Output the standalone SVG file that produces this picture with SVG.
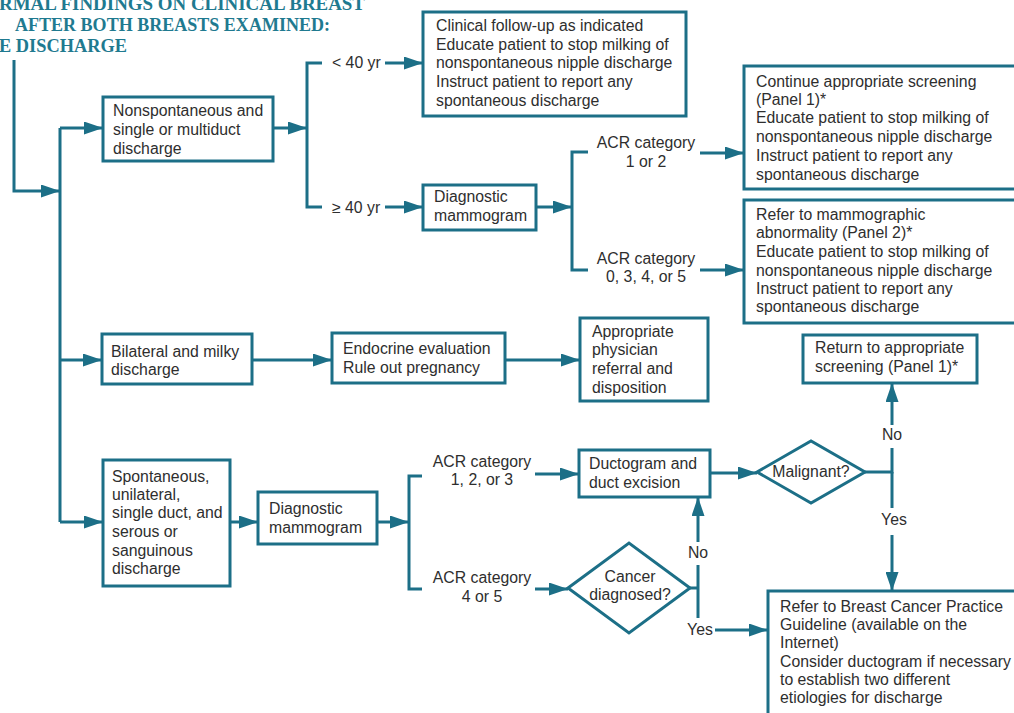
<svg xmlns="http://www.w3.org/2000/svg" width="1014" height="713" viewBox="0 0 1014 713">
<defs>
<style>
.box{fill:#ffffff;stroke:#1c6f87;stroke-width:3}
.t{font-family:"Liberation Sans",Arial,sans-serif;font-size:15.8px;fill:#2e2e2e}
.m{text-anchor:middle}
.hd{font-family:"Liberation Serif","Times New Roman",serif;font-size:19px;font-weight:bold;fill:#1f7a90}
.c{fill:none;stroke:#1c6f87;stroke-width:3}
.a{marker-end:url(#ah)}
</style>
<marker id="ah" viewBox="0 0 19 13" refX="19" refY="6.5" markerWidth="19" markerHeight="13" markerUnits="userSpaceOnUse" orient="auto">
<path d="M0,0 L19,6.5 L0,13 z" fill="#1c6f87"/>
</marker>
</defs>
<rect x="0" y="0" width="1014" height="713" fill="#ffffff"/>
<g id="title">
<text class="hd" x="-1" y="10" textLength="366" lengthAdjust="spacingAndGlyphs">RMAL FINDINGS ON CLINICAL BREAST</text>
<text class="hd" x="15" y="31" textLength="315" lengthAdjust="spacingAndGlyphs">AFTER BOTH BREASTS EXAMINED:</text>
<text class="hd" x="-1" y="52" textLength="128" lengthAdjust="spacingAndGlyphs">E DISCHARGE</text>
</g>
<g id="connectors">
<path class="c a" d="M14,60 V191 H60"/>
<path class="c" d="M60,128 V522"/>
<path class="c a" d="M60,128 H103"/>
<path class="c a" d="M60,360 H102"/>
<path class="c a" d="M60,522 H103"/>
<path class="c a" d="M273,128 H307"/>
<path class="c" d="M322,63 H307 V207 H322"/>
<path class="c a" d="M385,63 H423"/>
<path class="c a" d="M385,207 H423"/>
<path class="c a" d="M536,207 H572"/>
<path class="c" d="M588,152 H572 V270 H588"/>
<path class="c a" d="M700,153 H744"/>
<path class="c a" d="M700,270 H744"/>
<path class="c a" d="M252,360 H332"/>
<path class="c a" d="M505,360 H580"/>
<path class="c a" d="M230,522 H258"/>
<path class="c a" d="M377,522 H409"/>
<path class="c" d="M422,476 H409 V589 H422"/>
<path class="c a" d="M535,474 H579"/>
<path class="c a" d="M535,589 H568"/>
<path class="c a" d="M710,473 H757"/>
<path class="c" d="M690,588 H698"/>
<path class="c a" d="M698,542 V497"/>
<path class="c" d="M698,565 V618"/>
<path class="c a" d="M715,630 H768"/>
<path class="c" d="M865,472 H892 V448"/>
<path class="c a" d="M892,425 V383"/>
<path class="c" d="M892,472 V508"/>
<path class="c a" d="M892,535 V591"/>
<text class="t" x="332" y="68">&lt; 40 yr</text>
<text class="t" x="332" y="213">≥ 40 yr</text>
<text class="t m" x="646" y="148">ACR category</text>
<text class="t m" x="646" y="167">1 or 2</text>
<text class="t m" x="646" y="264">ACR category</text>
<text class="t m" x="646" y="282">0, 3, 4, or 5</text>
<text class="t m" x="482" y="467">ACR category</text>
<text class="t m" x="482" y="485">1, 2, or 3</text>
<text class="t m" x="482" y="583">ACR category</text>
<text class="t m" x="482" y="602">4 or 5</text>
<text class="t m" x="698" y="558">No</text>
<text class="t m" x="700" y="635">Yes</text>
<text class="t m" x="892" y="440">No</text>
<text class="t m" x="894" y="525">Yes</text>
</g>
<g id="n-nonspont">
<rect class="box" x="103" y="97" width="170" height="64"/>
<text class="t" x="113" y="116">Nonspontaneous and</text>
<text class="t" x="113" y="135">single or multiduct</text>
<text class="t" x="113" y="154">discharge</text>
</g>
<g id="n-clinical">
<rect class="box" x="423" y="12" width="263" height="104"/>
<text class="t" x="436" y="31">Clinical follow-up as indicated</text>
<text class="t" x="436" y="50">Educate patient to stop milking of</text>
<text class="t" x="436" y="68">nonspontaneous nipple discharge</text>
<text class="t" x="436" y="87">Instruct patient to report any</text>
<text class="t" x="436" y="106">spontaneous discharge</text>
</g>
<g id="n-diag1">
<rect class="box" x="423" y="185" width="113" height="45"/>
<text class="t" x="434" y="202">Diagnostic</text>
<text class="t" x="434" y="221">mammogram</text>
</g>
<g id="n-continue">
<rect class="box" x="744" y="66" width="280" height="123"/>
<text class="t" x="756" y="87">Continue appropriate screening</text>
<text class="t" x="756" y="105">(Panel 1)*</text>
<text class="t" x="756" y="123">Educate patient to stop milking of</text>
<text class="t" x="756" y="142">nonspontaneous nipple discharge</text>
<text class="t" x="756" y="161">Instruct patient to report any</text>
<text class="t" x="756" y="180">spontaneous discharge</text>
</g>
<g id="n-refermammo">
<rect class="box" x="744" y="200" width="280" height="123"/>
<text class="t" x="756" y="220">Refer to mammographic</text>
<text class="t" x="756" y="238">abnormality (Panel 2)*</text>
<text class="t" x="756" y="257">Educate patient to stop milking of</text>
<text class="t" x="756" y="276">nonspontaneous nipple discharge</text>
<text class="t" x="756" y="294">Instruct patient to report any</text>
<text class="t" x="756" y="312">spontaneous discharge</text>
</g>
<g id="n-bilateral">
<rect class="box" x="102" y="334" width="150" height="50"/>
<text class="t" x="111" y="357">Bilateral and milky</text>
<text class="t" x="111" y="375">discharge</text>
</g>
<g id="n-endocrine">
<rect class="box" x="332" y="333" width="173" height="50"/>
<text class="t" x="343" y="354">Endocrine evaluation</text>
<text class="t" x="343" y="373">Rule out pregnancy</text>
</g>
<g id="n-appropriate">
<rect class="box" x="580" y="318" width="128" height="83"/>
<text class="t" x="592" y="337">Appropriate</text>
<text class="t" x="592" y="355">physician</text>
<text class="t" x="592" y="374">referral and</text>
<text class="t" x="592" y="393">disposition</text>
</g>
<g id="n-spont">
<rect class="box" x="103" y="460" width="127" height="126"/>
<text class="t" x="112" y="482">Spontaneous,</text>
<text class="t" x="112" y="500">unilateral,</text>
<text class="t" x="112" y="518">single duct, and</text>
<text class="t" x="112" y="537">serous or</text>
<text class="t" x="112" y="556">sanguinous</text>
<text class="t" x="112" y="574">discharge</text>
</g>
<g id="n-diag2">
<rect class="box" x="258" y="492" width="119" height="52"/>
<text class="t" x="269" y="514">Diagnostic</text>
<text class="t" x="269" y="533">mammogram</text>
</g>
<g id="n-ductogram">
<rect class="box" x="579" y="450" width="131" height="47"/>
<text class="t" x="589" y="469">Ductogram and</text>
<text class="t" x="589" y="488">duct excision</text>
</g>
<g id="n-cancer">
<polygon class="box" points="568,588 629,543 690,588 629,633"/>
<text class="t m" x="630" y="582">Cancer</text>
<text class="t m" x="630" y="600">diagnosed?</text>
</g>
<g id="n-malignant">
<polygon class="box" points="757,472 811,441 865,472 811,503"/>
<text class="t m" x="811" y="477">Malignant?</text>
</g>
<g id="n-return">
<rect class="box" x="803" y="335" width="174" height="48"/>
<text class="t" x="815" y="353">Return to appropriate</text>
<text class="t" x="815" y="372">screening (Panel 1)*</text>
</g>
<g id="n-refer">
<rect class="box" x="768" y="591" width="260" height="130"/>
<text class="t" x="780" y="612">Refer to Breast Cancer Practice</text>
<text class="t" x="780" y="630">Guideline (available on the</text>
<text class="t" x="780" y="648">Internet)</text>
<text class="t" x="780" y="667">Consider ductogram if necessary</text>
<text class="t" x="780" y="685">to establish two different</text>
<text class="t" x="780" y="703">etiologies for discharge</text>
</g>
</svg>
